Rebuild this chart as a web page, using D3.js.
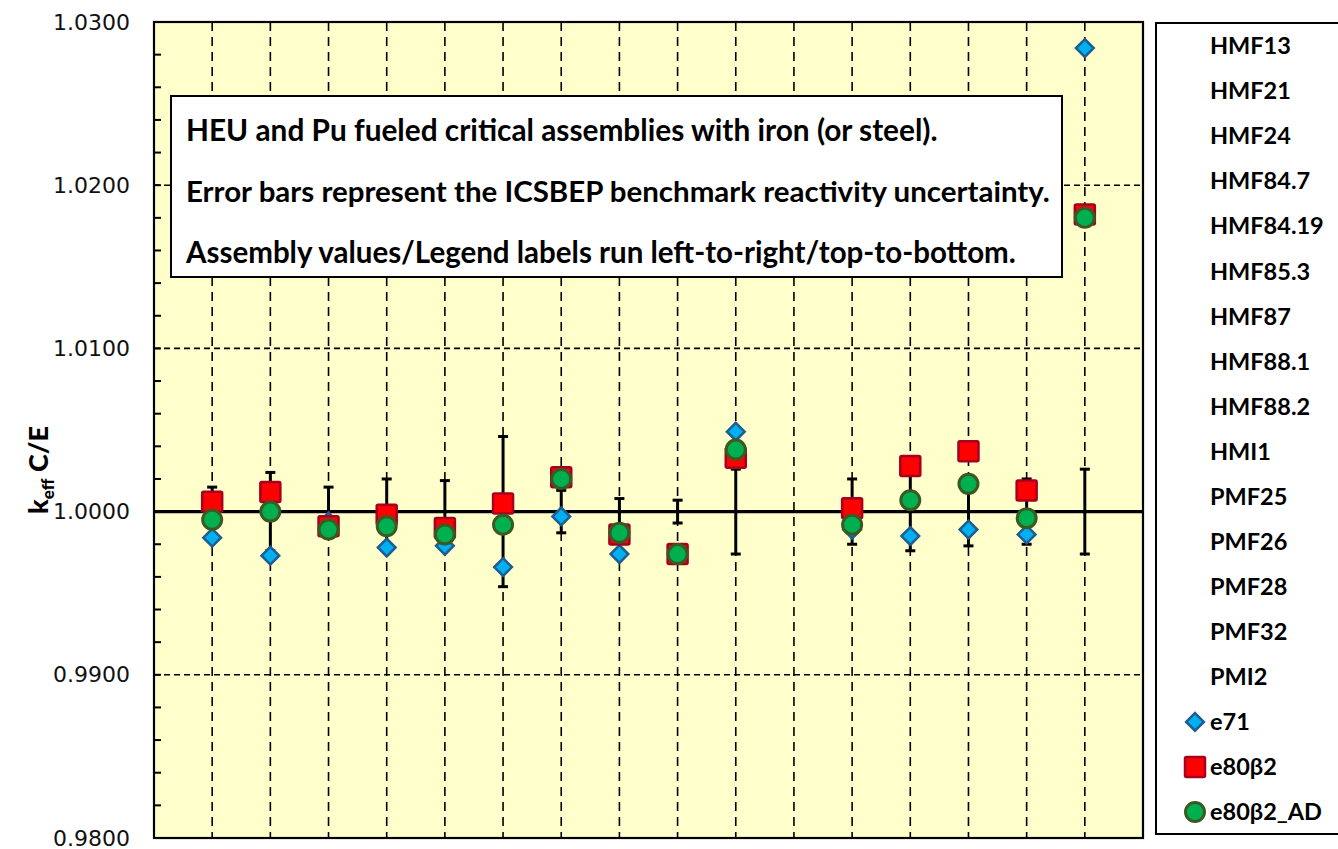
<!DOCTYPE html>
<html>
<head>
<meta charset="utf-8">
<script src="https://cdn.jsdelivr.net/npm/d3@7"></script>
<style>
  html, body { margin: 0; padding: 0; background: #ffffff; }
  svg { display: block; }
</style>
</head>
<body>
<svg id="chart" width="1338" height="849"></svg>
<script>
// Assemblies, in plotting order (slot 11 separates HEU from Pu systems)
const assemblies = ["HMF13", "HMF21", "HMF24", "HMF84.7", "HMF84.19", "HMF85.3", "HMF87",
  "HMF88.1", "HMF88.2", "HMI1", "PMF25", "PMF26", "PMF28", "PMF32", "PMI2"];
const slots = [1, 2, 3, 4, 5, 6, 7, 8, 9, 10, 12, 13, 14, 15, 16];

// ICSBEP benchmark reactivity uncertainty (1 sigma, in k)
const uncertainty = [0.0015, 0.0024, 0.0015, 0.0020, 0.0019, 0.0046, 0.0013,
  0.0008, 0.0007, 0.0026, 0.0020, 0.0024, 0.0021, 0.0020, 0.0026];

// k-eff C/E per library
const e71 = [0.9984, 0.9973, 0.9994, 0.9978, 0.9979, 0.9966, 0.9997,
  0.9974, 0.9974, 1.0049, 0.9989, 0.9985, 0.9989, 0.9986, 1.0284];
const e80b2 = [1.0006, 1.0012, 0.9991, 0.9998, 0.9990, 1.0005, 1.0021,
  0.9986, 0.9974, 1.0033, 1.0002, 1.0028, 1.0037, 1.0013, 1.0182];
const e80b2AD = [0.9995, 1.0000, 0.9989, 0.9991, 0.9986, 0.9992, 1.0020,
  0.9987, 0.9974, 1.0038, 0.9992, 1.0007, 1.0017, 0.9996, 1.0180];

const yTicks = [0.98, 0.99, 1.00, 1.01, 1.02, 1.03];
const seriesNames = ["e71", "e80\u03B22", "e80\u03B22_AD"];
const notes = [
  "HEU and Pu fueled critical assemblies with iron (or steel).",
  "Error bars represent the ICSBEP benchmark reactivity uncertainty.",
  "Assembly values/Legend labels run left-to-right/top-to-bottom."
];

const svg = d3.select("#chart");
const plot = { left: 154, right: 1143, top: 22, bottom: 838 };

const x = d3.scaleLinear().domain([0, 17]).range([plot.left, plot.right]);
const y = d3.scaleLinear().domain([0.98, 1.03]).range([plot.bottom, plot.top]);

const calibriLike = "Lato, 'Open Sans', sans-serif";

// plot background
svg.append("rect")
  .attr("x", plot.left).attr("y", plot.top)
  .attr("width", plot.right - plot.left).attr("height", plot.bottom - plot.top)
  .attr("fill", "#FFFFCC");

// dashed vertical gridlines at each assembly slot
const vGrid = d3.range(1, 17);
svg.append("g").selectAll("line").data(vGrid).join("line")
  .attr("x1", d => x(d)).attr("x2", d => x(d))
  .attr("y1", plot.top).attr("y2", plot.bottom)
  .attr("stroke", "#000").attr("stroke-width", 1.6)
  .attr("stroke-dasharray", "9,6");

// dashed horizontal gridlines
svg.append("g").selectAll("line").data(yTicks.filter(v => v > 0.98 && v < 1.03 && Math.abs(v - 1) > 1e-9)).join("line")
  .attr("x1", plot.left).attr("x2", plot.right)
  .attr("y1", d => y(d)).attr("y2", d => y(d))
  .attr("stroke", "#000").attr("stroke-width", 1.6)
  .attr("stroke-dasharray", "6,4");

// y axis: major labels + inward minor ticks
const yAxis = d3.axisLeft(y)
  .tickValues(yTicks)
  .tickFormat(d3.format(".4f"))
  .tickSize(0).tickPadding(24);
const gy = svg.append("g").attr("transform", `translate(${plot.left},0)`).call(yAxis);
gy.select(".domain").remove();
gy.selectAll("text")
  .attr("font-family", "'DejaVu Sans', Verdana, sans-serif")
  .attr("font-size", 22).attr("fill", "#111");

const minor = d3.range(0.982, 1.0299, 0.002);
svg.append("g").selectAll("line").data(minor).join("line")
  .attr("x1", plot.left).attr("x2", plot.left + 7)
  .attr("y1", d => y(d)).attr("y2", d => y(d))
  .attr("stroke", "#000").attr("stroke-width", 2);

// annotation box
const box = svg.append("g");
box.append("rect")
  .attr("x", 171).attr("y", 96).attr("width", 891).attr("height", 181)
  .attr("fill", "#fff").attr("stroke", "#000").attr("stroke-width", 2);
const noteTargets = [752, 864, 830];
box.selectAll("text").data(notes).join("text")
  .attr("x", 186).attr("y", (d, i) => 141 + i * 61)
  .attr("font-family", calibriLike).attr("font-weight", 700)
  .attr("font-size", 24).attr("fill", "#000")
  .text(d => d)
  .each(function (d, i) {
    const w = this.getComputedTextLength();
    d3.select(this).attr("font-size", 24 * noteTargets[i] / w);
  });

// error bars, centred on C/E = 1
const eb = svg.append("g").attr("stroke", "#000").attr("stroke-width", 3);
slots.forEach((s, i) => {
  const cx = x(s), top = y(1 + uncertainty[i]), bot = y(1 - uncertainty[i]);
  eb.append("line").attr("x1", cx).attr("x2", cx).attr("y1", top).attr("y2", bot);
  eb.append("line").attr("x1", cx - 5).attr("x2", cx + 5).attr("y1", top).attr("y2", top);
  eb.append("line").attr("x1", cx - 5).attr("x2", cx + 5).attr("y1", bot).attr("y2", bot);
});

// unity line
svg.append("line")
  .attr("x1", plot.left).attr("x2", plot.right)
  .attr("y1", y(1)).attr("y2", y(1))
  .attr("stroke", "#000").attr("stroke-width", 3.2);

// plot frame
svg.append("rect")
  .attr("x", plot.left).attr("y", plot.top)
  .attr("width", plot.right - plot.left).attr("height", plot.bottom - plot.top)
  .attr("fill", "none").attr("stroke", "#000").attr("stroke-width", 2.2);

// markers
const diamond = d3.symbol().type(d3.symbolDiamond2).size(200);
const styles = [
  { fill: "#00B0F0", stroke: "#1F5C8F", sw: 2.5 },
  { fill: "#FF0000", stroke: "#A50021", sw: 2.5 },
  { fill: "#00B050", stroke: "#3A5A22", sw: 3 }
];
function drawDiamond(g, cx, cy) {
  g.append("path").attr("d", diamond()).attr("transform", `translate(${cx},${cy})`)
    .attr("fill", styles[0].fill).attr("stroke", styles[0].stroke).attr("stroke-width", styles[0].sw);
}
function drawSquare(g, cx, cy) {
  g.append("rect").attr("x", cx - 10).attr("y", cy - 10).attr("width", 20).attr("height", 20)
    .attr("rx", 1.5)
    .attr("fill", styles[1].fill).attr("stroke", styles[1].stroke).attr("stroke-width", styles[1].sw);
}
function drawCircle(g, cx, cy) {
  g.append("circle").attr("cx", cx).attr("cy", cy).attr("r", 9.5)
    .attr("fill", styles[2].fill).attr("stroke", styles[2].stroke).attr("stroke-width", styles[2].sw);
}
const markers = svg.append("g");
slots.forEach((s, i) => drawDiamond(markers, x(s), y(e71[i])));
slots.forEach((s, i) => drawSquare(markers, x(s), y(e80b2[i])));
slots.forEach((s, i) => drawCircle(markers, x(s), y(e80b2AD[i])));

// y axis title
const yt = svg.append("text")
  .attr("transform", "translate(48,470) rotate(-90)")
  .attr("text-anchor", "middle")
  .attr("font-family", calibriLike).attr("font-weight", 900)
  .attr("font-size", 27).attr("fill", "#000");
yt.append("tspan").text("k");
yt.append("tspan").attr("font-size", 17).attr("dy", 6).text("eff");
yt.append("tspan").attr("dy", -6).text(" C/E");

// legend
const lg = svg.append("g");
lg.append("rect")
  .attr("x", 1156).attr("y", 23).attr("width", 200).attr("height", 811)
  .attr("fill", "#fff").attr("stroke", "#000").attr("stroke-width", 2);
const legendItems = assemblies.concat(seriesNames);
const rowY = i => 46 + i * 45.06;
lg.selectAll("text").data(legendItems).join("text")
  .attr("x", 1210).attr("y", (d, i) => rowY(i))
  .attr("dy", "0.35em")
  .attr("font-family", calibriLike).attr("font-weight", 700)
  .attr("font-size", 23.5).attr("fill", "#000")
  .text(d => d);
const nA = assemblies.length;
drawDiamond(lg, 1195, rowY(nA));
drawSquare(lg, 1195, rowY(nA + 1));
drawCircle(lg, 1195, rowY(nA + 2));
</script>
</body>
</html>
